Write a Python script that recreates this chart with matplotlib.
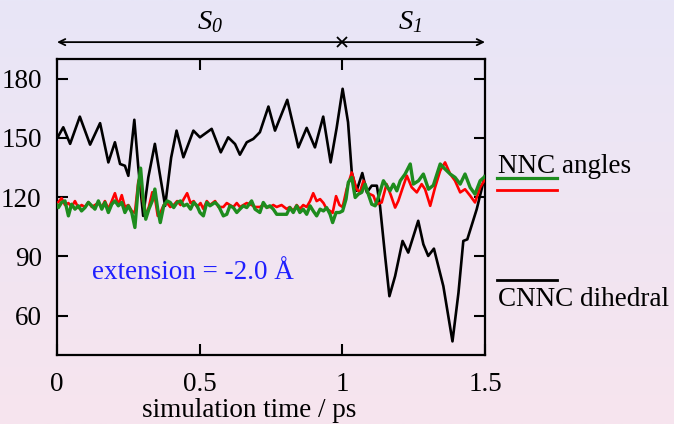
import numpy as np
import matplotlib.pyplot as plt
from matplotlib.colors import LinearSegmentedColormap
from matplotlib.lines import Line2D

plt.rcParams["font.family"] = ["Liberation Serif", "DejaVu Serif"]
plt.rcParams["mathtext.fontset"] = "custom"
# only the S0 / S1 labels use mathtext; they are italic throughout
plt.rcParams["mathtext.rm"] = "Liberation Serif:italic"
plt.rcParams["mathtext.it"] = "Liberation Serif:italic"

# ---------- data ----------
# CNNC dihedral (black)
t_dih = [0.0, 0.005, 0.022, 0.046, 0.08, 0.116, 0.151, 0.18, 0.203, 0.221, 0.238,
         0.25, 0.271, 0.285, 0.302, 0.32, 0.343, 0.36, 0.379, 0.40, 0.419, 0.443,
         0.478, 0.501, 0.542, 0.574, 0.6, 0.624, 0.641, 0.665, 0.688, 0.711, 0.741,
         0.764, 0.807, 0.846, 0.875, 0.904, 0.933, 0.959, 0.98, 1.001, 1.02, 1.033,
         1.05, 1.07, 1.086, 1.103, 1.121, 1.132, 1.15, 1.165, 1.185, 1.211, 1.231,
         1.266, 1.284, 1.301, 1.321, 1.354, 1.386, 1.407, 1.424, 1.438, 1.471, 1.5]
dih = [150, 151, 155.4, 147, 160.8, 146.6, 157.5, 137.6, 147.8, 136.8, 135.9,
       130.8, 159.2, 135, 110.5, 130, 147, 132, 115.6, 140, 153.7, 140.2,
       153.7, 150.3, 154.6, 142.7, 150.3, 146.9, 141.5, 147.8, 149.5, 152.9, 165.9,
       153.7, 169.3, 145.2, 155.1, 145.2, 160.8, 137.6, 155, 174.9, 158, 132.6,
       123.2, 132.2, 122.4, 125.8, 125.8, 115.6, 90, 69.8, 80, 97.8, 91.9,
       108, 96.1, 90.2, 93.9, 74.9, 46.9, 71.5, 97.8, 98.6, 113.9, 131]

# NNC angle 1 (green)
t_green = [0.0, 0.005, 0.016, 0.028, 0.040, 0.051, 0.063, 0.075, 0.086, 0.098, 0.110,
           0.122, 0.133, 0.145, 0.157, 0.168, 0.180, 0.192, 0.203, 0.215, 0.227,
           0.238, 0.250, 0.262, 0.273, 0.285, 0.293, 0.301, 0.311, 0.322, 0.334,
           0.343, 0.353, 0.362, 0.374, 0.386, 0.397, 0.409, 0.421, 0.433, 0.444,
           0.456, 0.468, 0.479, 0.491, 0.501, 0.513, 0.525, 0.536, 0.554, 0.566,
           0.583, 0.595, 0.606, 0.618, 0.630, 0.641, 0.653, 0.665, 0.682, 0.694,
           0.711, 0.723, 0.735, 0.746, 0.758, 0.770, 0.787, 0.805, 0.816, 0.828,
           0.840, 0.851, 0.863, 0.875, 0.887, 0.898, 0.910, 0.922, 0.934, 0.945,
           0.957, 0.966, 0.978, 0.990, 1.001, 1.013, 1.021, 1.033, 1.045, 1.056,
           1.068, 1.080, 1.091, 1.103, 1.115, 1.126, 1.144, 1.155, 1.167, 1.179,
           1.191, 1.203, 1.220, 1.238, 1.249, 1.267, 1.284, 1.302, 1.319, 1.343,
           1.360, 1.378, 1.395, 1.413, 1.430, 1.448, 1.465, 1.483, 1.5]
green = [116, 114.7, 117.3, 118.1, 110.5, 116.4, 113.9, 115.6, 113.0, 114.7, 117.3,
         115.6, 113.9, 118.1, 113.9, 117.3, 112.2, 116.4, 118.1, 115.6, 117.3,
         112.2, 115.6, 112.2, 104.6, 125.8, 134.7, 120.7, 108.8, 113.9, 118.1,
         124.1, 113.9, 107.1, 115.6, 118.1, 117.3, 114.7, 117.3, 118.1, 115.6,
         116.4, 113.9, 117.3, 115.6, 112.2, 110.5, 117.3, 115.6, 117.3, 115.6,
         110.5, 111.3, 115.6, 114.7, 112.2, 113.9, 115.6, 114.7, 118.1, 113.9,
         112.2, 117.3, 114.7, 115.6, 113.9, 111.3, 111.3, 111.3, 114.7, 112.2,
         115.6, 112.2, 113.9, 111.3, 115.6, 113.0, 110.5, 113.9, 113.0, 114.7,
         111.3, 107.1, 112.2, 112.2, 113.0, 119.0, 127.5, 130.0, 119.8, 121.5,
         122.4, 126.6, 121.5, 116.4, 115.6, 119.8, 128.3, 125.8, 123.2, 126.6,
         123.2, 128.3, 131.7, 136.8, 126.6, 128.3, 131.7, 124.0, 126.0, 136.8,
         134.2, 131.7, 130.0, 126.6, 131.7, 124.9, 121.5, 128.3, 130.5]

# NNC angle 2 (red)
t_red = [0.0, 0.005, 0.016, 0.028, 0.040, 0.051, 0.063, 0.075, 0.086, 0.098, 0.110,
         0.122, 0.133, 0.145, 0.157, 0.168, 0.180, 0.192, 0.203, 0.215, 0.227,
         0.238, 0.250, 0.262, 0.273, 0.285, 0.293, 0.301, 0.311, 0.322, 0.334,
         0.343, 0.353, 0.362, 0.374, 0.386, 0.397, 0.409, 0.421, 0.433, 0.444,
         0.456, 0.468, 0.479, 0.491, 0.503, 0.513, 0.525, 0.536, 0.554, 0.566,
         0.583, 0.595, 0.606, 0.618, 0.630, 0.641, 0.653, 0.665, 0.682, 0.694,
         0.711, 0.723, 0.735, 0.746, 0.758, 0.770, 0.787, 0.805, 0.816, 0.828,
         0.840, 0.851, 0.863, 0.875, 0.887, 0.898, 0.910, 0.922, 0.934, 0.945,
         0.957, 0.966, 0.978, 0.990, 1.001, 1.015, 1.033, 1.050, 1.062, 1.074,
         1.090, 1.109, 1.120, 1.138, 1.155, 1.170, 1.185, 1.196, 1.208, 1.226,
         1.243, 1.261, 1.278, 1.290, 1.308, 1.325, 1.343, 1.360, 1.378, 1.395,
         1.413, 1.430, 1.448, 1.465, 1.483, 1.5]
red = [117, 117.5, 119.5, 116, 117, 115, 118, 114.5, 116, 115, 117.5,
       115, 116, 117, 115, 118, 114, 118, 122, 116, 121,
       115, 116, 113, 112, 128, 131, 118, 111, 115, 122.5,
       120, 110.5, 112, 116, 117, 115, 116, 118, 116, 119,
       122, 117, 118, 115, 117, 114, 118, 116, 118, 115,
       115, 117, 116, 115, 117, 115, 116, 117, 116, 115,
       115, 116, 115, 115, 116, 115, 116, 114, 115, 113,
       116, 114, 116, 115, 118, 122, 118, 119, 117, 114,
       113, 112, 120.5, 116, 115, 124, 132.5, 124, 122.5, 128.3,
       122, 120.7, 116.4, 117.3, 126.6, 121, 114.7, 118, 123.2, 130.9,
       125, 122.4, 126.6, 124, 115.6, 124.9, 133.4, 137.6, 131.7, 128.3,
       122.4, 124, 120.7, 117.3, 124.9, 129]

x_ticks = [0, 0.5, 1, 1.5]
x_ticklabels = ["0", "0.5", "1", "1.5"]
y_ticks = [60, 90, 120, 150, 180]

FS = 19.5
GREEN = "#1e8c1e"

fig = plt.figure(figsize=(6.74, 4.24), dpi=100)

# ---------- background gradient ----------
bg = fig.add_axes([0, 0, 1, 1], zorder=-10)
grad = np.linspace(0, 1, 256).reshape(-1, 1)
cmap = LinearSegmentedColormap.from_list("bg", ["#e8e6f7", "#f7e4ee"])
bg.imshow(grad, aspect="auto", cmap=cmap, extent=[0, 1, 0, 1])
bg.axis("off")

# ---------- main axes ----------
ax = fig.add_axes([57 / 674, 1 - 355 / 424, 428 / 674, 296 / 424])
ax.patch.set_alpha(0)

ax.plot(t_dih, dih, color="black", lw=1.9, zorder=3)
ax.plot(t_red, red, color="#ff0000", lw=1.9, zorder=4)
ax.plot(t_green, green, color=GREEN, lw=2.4, zorder=5)

ax.set_xlim(0, 1.5)
ax.set_ylim(40, 190)
ax.set_xticks(x_ticks)
ax.set_xticklabels(x_ticklabels)
ax.set_yticks(y_ticks)
ax.tick_params(direction="in", top=True, right=True, length=8, width=1.5,
               labelsize=FS)
ax.tick_params(axis="y", pad=11)
ax.tick_params(axis="x", pad=12)
for s in ax.spines.values():
    s.set_linewidth(1.6)

ax.set_xlabel("simulation time / ps", fontsize=FS)
ax.xaxis.set_label_coords(0.448, -0.145)

ax.text(0.123, 78.3, "extension = -2.0 Å", color="#1f1fff", fontsize=FS,
        ha="left", va="baseline")

# ---------- S0 / S1 arrows ----------
ya = 1.057
arrow_kw = dict(arrowstyle="->,head_length=0.45,head_width=0.22", lw=1.3,
                color="black", shrinkA=0, shrinkB=0)
ax.annotate("", xy=(0, ya), xytext=(1.0, ya),
            xycoords=("data", "axes fraction"), textcoords=("data", "axes fraction"),
            arrowprops=arrow_kw, annotation_clip=False)
ax.annotate("", xy=(1.5, ya), xytext=(1.0, ya),
            xycoords=("data", "axes fraction"), textcoords=("data", "axes fraction"),
            arrowprops=arrow_kw, annotation_clip=False)
ax.plot([1.0], [ya], marker="x", ms=7, mew=1.3, color="black",
        transform=ax.get_xaxis_transform(), clip_on=False)
ax.text(0.536, 1.125, r"$S_0$", fontsize=FS + 1, ha="center", va="center",
        transform=ax.get_xaxis_transform())
ax.text(1.237, 1.125, r"$S_1$", fontsize=FS + 1, ha="center", va="center",
        transform=ax.get_xaxis_transform())

# ---------- legend on the right ----------
fig.text(498 / 674, 1 - 173 / 424, "NNC angles", fontsize=FS, ha="left", va="baseline")
fig.add_artist(Line2D([497 / 674, 557 / 674], [1 - 178 / 424] * 2, color=GREEN, lw=2.3))
fig.add_artist(Line2D([497 / 674, 557 / 674], [1 - 190 / 424] * 2, color="#ff0000", lw=2.0))
fig.add_artist(Line2D([497 / 674, 557 / 674], [1 - 280 / 424] * 2, color="black", lw=2.0))
fig.text(498 / 674, 1 - 306.5 / 424, "CNNC dihedral", fontsize=FS, ha="left", va="baseline")

fig.savefig("out.png", dpi=100)
